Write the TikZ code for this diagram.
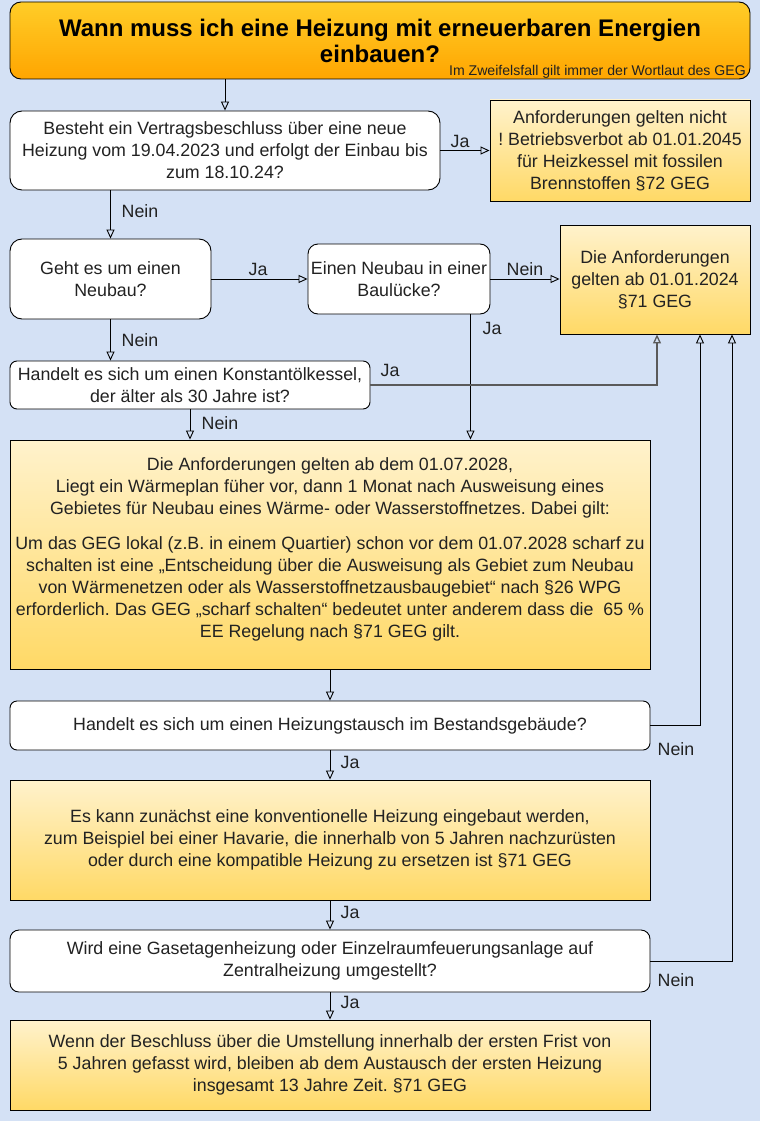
\documentclass[tikz,border=0pt]{standalone}
\usepackage{fontspec}
\setmainfont{Liberation Sans}
\usetikzlibrary{arrows.meta}
\frenchspacing
\definecolor{bgc}{HTML}{D4E1F5}
\definecolor{or1}{HTML}{FFCD28}
\definecolor{or2}{HTML}{FFA500}
\definecolor{yl1}{HTML}{FFF2CC}
\definecolor{yl2}{HTML}{FFD966}
\definecolor{txc}{HTML}{222222}
\definecolor{lnc}{HTML}{5A5A5A}
\newcommand\bodyf{\fontsize{17.8}{22}\selectfont}
\newcommand\titlef{\fontsize{24}{26}\selectfont\bfseries}
\newcommand\notef{\fontsize{14.1}{16}\selectfont}
\tikzset{
  qbox/.style={draw=black, line width=0.9pt, fill=white, align=center, inner sep=0pt, font=\bodyf, text=txc},
  rbox/.style={draw=black, line width=0.9pt, top color=yl1, bottom color=yl2, align=center, inner sep=0pt, font=\bodyf, text=txc},
  txtnode/.style={align=center, inner sep=0pt, font=\bodyf, text=txc},
  arr/.style={draw=black, line width=0.9pt, -{Triangle[open,length=9pt,width=8pt]}},
  lbl/.style={inner sep=0pt, font=\bodyf, text=txc}
}
\begin{document}
\begin{tikzpicture}[x=1pt,y=-1pt]
\useasboundingbox (0,0) rectangle (760,1121);
\fill[bgc] (0,0) rectangle (760,1121);
% title
\node[draw=black, line width=0.9pt, top color=or1, bottom color=or2, rounded corners=11pt,
      minimum width=740pt, minimum height=77pt, align=center, inner sep=0pt, font=\titlef, text=black]
  (title) at (380,40.5) {Wann muss ich eine Heizung mit erneuerbaren Energien\\einbauen?};
\node[anchor=base east, inner sep=0pt, font=\notef, text=txc] (note) at (746,76) {Im Zweifelsfall gilt immer der Wortlaut des GEG};
% boxes
\node[qbox, rounded corners=12pt, minimum width=430pt, minimum height=79pt] (b1) at (225,150.5)
  {Besteht ein Vertragsbeschluss über eine neue\\Heizung vom 19.04.2023 und erfolgt der Einbau bis\\zum 18.10.24?};
\node[rbox, minimum width=260pt, minimum height=101pt] (rA) at (620,150.5)
  {Anforderungen gelten nicht\\! Betriebsverbot ab 01.01.2045\\für Heizkessel mit fossilen\\Brennstoffen §72 GEG};
\node[qbox, rounded corners=12pt, minimum width=201pt, minimum height=80pt] (b2) at (110.5,279)
  {Geht es um einen\\Neubau?};
\node[qbox, rounded corners=10pt, minimum width=182pt, minimum height=70pt] (b3) at (399,279)
  {Einen Neubau in einer\\Baulücke?};
\node[rbox, minimum width=190pt, minimum height=109pt] (rB) at (655,279.5)
  {Die Anforderungen\\gelten ab 01.01.2024\\§71 GEG};
\node[qbox, rounded corners=7pt, minimum width=360pt, minimum height=48pt] (b4) at (190,385)
  {Handelt es sich um einen Konstantölkessel,\\der älter als 30 Jahre ist?};
\node[rbox, minimum width=640pt, minimum height=229pt] (rC) at (330,554.5) {};
\node[txtnode] (rCt) at (330,549.5)
  {Die Anforderungen gelten ab dem 01.07.2028,\\Liegt ein Wärmeplan füher vor, dann 1 Monat nach Ausweisung eines\\Gebietes für Neubau eines Wärme- oder Wasserstoffnetzes. Dabei gilt:\\[13pt]Um das GEG lokal (z.B. in einem Quartier) schon vor dem 01.07.2028 scharf zu\\schalten ist eine „Entscheidung über die Ausweisung als Gebiet zum Neubau\\von Wärmenetzen oder als Wasserstoffnetzausbaugebiet“ nach §26 WPG\\erforderlich. Das GEG „scharf schalten“ bedeutet unter anderem dass die\ \ 65 \%\\EE Regelung nach §71 GEG gilt.};
\node[qbox, rounded corners=7pt, minimum width=640pt, minimum height=49pt] (b5) at (330,725.5)
  {Handelt es sich um einen Heizungstausch im Bestandsgebäude?};
\node[rbox, minimum width=640pt, minimum height=120pt] (rD) at (330,840)
  {Es kann zunächst eine konventionelle Heizung eingebaut werden,\\zum Beispiel bei einer Havarie, die innerhalb von 5 Jahren nachzurüsten\\oder durch eine kompatible Heizung zu ersetzen ist §71 GEG};
\node[qbox, rounded corners=9pt, minimum width=640pt, minimum height=62pt] (b6) at (330,961)
  {Wird eine Gasetagenheizung oder Einzelraumfeuerungsanlage auf\\Zentralheizung umgestellt?};
\node[rbox, minimum width=640pt, minimum height=90pt] (rE) at (330,1065)
  {Wenn der Beschluss über die Umstellung innerhalb der ersten Frist von\\5 Jahren gefasst wird, bleiben ab dem Austausch der ersten Heizung\\insgesamt 13 Jahre Zeit. §71 GEG};
% helper coordinates
\coordinate (b3o) at ([xshift=-20pt]b3.south east);
\coordinate (j1) at ([xshift=2pt]rB.south);
\coordinate (j2) at ([xshift=45pt]rB.south);
\coordinate (j3) at ([xshift=77pt]rB.south);
% connectors
\draw[arr] (title.south -| b1.north) -- (b1.north);
\draw[arr] (b1.east) -- (rA.west |- b1.east);
\draw[arr] (b1.south -| b2.north) -- (b2.north);
\draw[arr] (b2.east) -- (b3.west |- b2.east);
\draw[arr] (b3.east) -- (rB.west |- b3.east);
\draw[arr] (b3o) -- (b3o |- rC.north);
\draw[arr] (b2.south) -- (b2.south |- b4.north);
\draw[arr, draw=lnc, line width=1.3pt] (b4.east) -| (j1);
\draw[arr] (b4.south) -- (b4.south |- rC.north);
\draw[arr] (rC.south) -- (b5.north);
\draw[arr] (b5.east) -| (j2);
\draw[arr] (b5.south) -- (rD.north);
\draw[arr] (rD.south) -- (b6.north);
\draw[arr] (b6.east) -| (j3);
\draw[arr] (b6.south) -- (rE.north);
% labels
\node[lbl] (l1) at (460,141) {Ja};
\node[lbl] (l2) at (140,211) {Nein};
\node[lbl] (l3) at (258,269) {Ja};
\node[lbl] (l4) at (525,269) {Nein};
\node[lbl] (l5) at (492,328) {Ja};
\node[lbl] (l6) at (140,340) {Nein};
\node[lbl] (l7) at (390,370) {Ja};
\node[lbl] (l8) at (220,423) {Nein};
\node[lbl] (l9) at (676,749) {Nein};
\node[lbl] (l10) at (350,762) {Ja};
\node[lbl] (l11) at (350,912) {Ja};
\node[lbl] (l12) at (676,980) {Nein};
\node[lbl] (l13) at (350,1002) {Ja};
\end{tikzpicture}
\end{document}
